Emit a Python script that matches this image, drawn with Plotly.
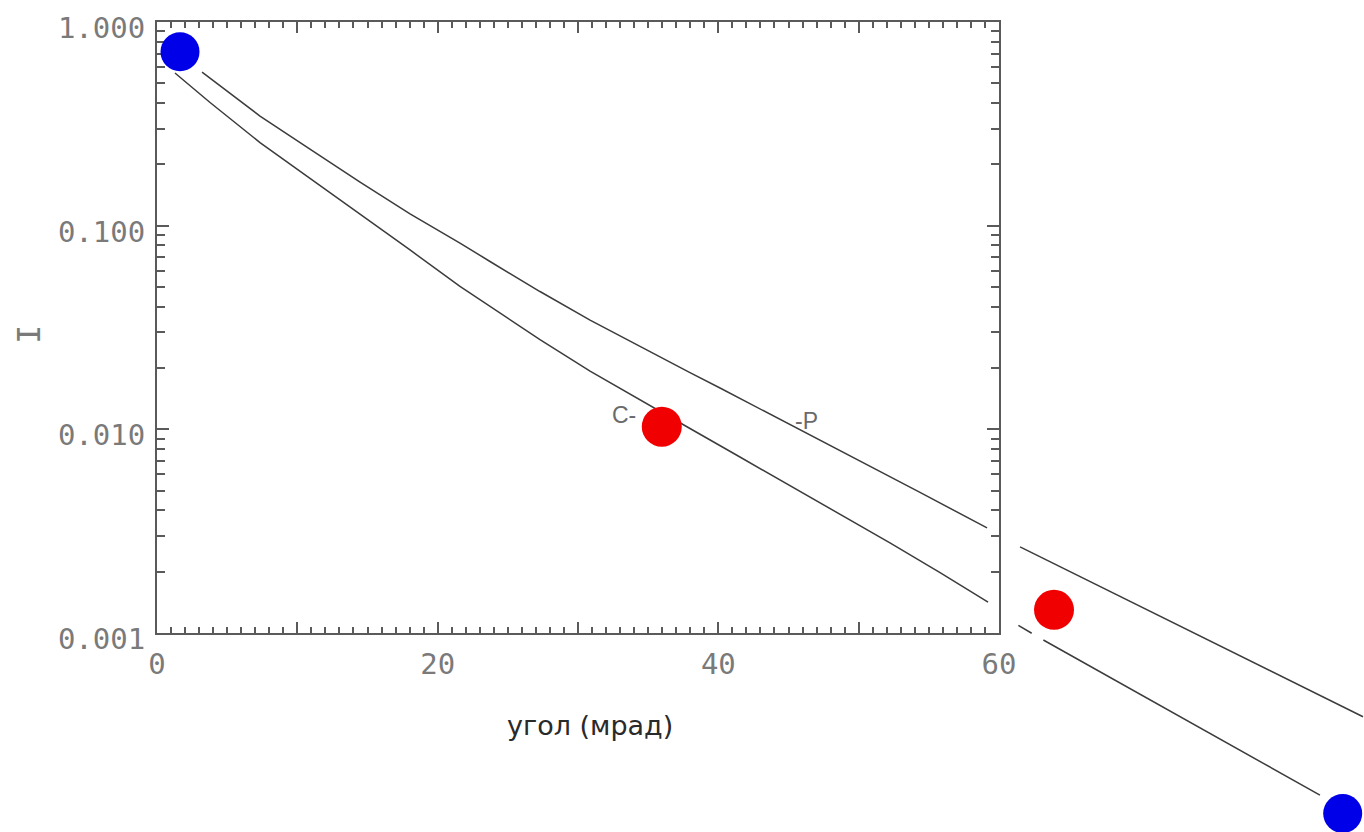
import plotly.graph_objects as go

# ---- data ----
p_x = [3.21, 7.34, 10.90, 14.47, 18.03, 21.59, 23.73, 27.29, 30.86, 34.42, 37.98, 40.12, 43.68, 46.32, 50.81, 54.37, 59.15]
p_y = [0.568, 0.3455, 0.2378, 0.1638, 0.1144, 0.0822, 0.0667, 0.0475, 0.0344, 0.0255, 0.0190, 0.01595, 0.01189, 0.00956, 0.00661, 0.00490, 0.00328]

c_x = [1.28, 3.78, 7.34, 10.90, 14.47, 18.03, 21.59, 23.73, 27.29, 30.86, 34.42, 37.98, 41.54, 45.11, 48.67, 52.23, 55.80, 59.22]
c_y = [0.5618, 0.4025, 0.2560, 0.1714, 0.1141, 0.0760, 0.0503, 0.0403, 0.0276, 0.01933, 0.01393, 0.01009, 0.00731, 0.00530, 0.00384, 0.00277, 0.00198, 0.001416]

# continuation drawn outside the frame
p_out_x = [61.50, 85.94]
p_out_y = [0.00265, 0.000388]
c_dash_x = [61.38, 62.33]
c_dash_y = [0.00109, 0.000997]
c_out_x = [63.16, 82.87]
c_out_y = [0.000924, 0.000160]

blue_x = [1.64, 84.49]
blue_y = [0.715, 0.000130]
red_x = [35.97, 63.92]
red_y = [0.0103, 0.00130]

x_tickvals = [0, 10, 20, 30, 40, 50, 60]
x_ticktext = ["0", "", "20", "", "40", "", "60"]
y_tickvals = [0.001, 0.01, 0.1, 1.0]
y_ticktext = ["0.001", "0.010", "0.100", "1.000"]

x_title = "угол (мрад)"
y_title = "I"

# ---- figure ----
LINE = "#3c3c3c"
AX = "#5a5a5a"
TICKFONT = dict(family="DejaVu Sans Mono", size=29, color="#7a7a7a")

fig = go.Figure()

fig.add_trace(go.Scatter(x=p_x, y=p_y, mode="lines", line=dict(color=LINE, width=1.5),
                         xaxis="x", yaxis="y", showlegend=False, hoverinfo="skip"))
fig.add_trace(go.Scatter(x=c_x, y=c_y, mode="lines", line=dict(color=LINE, width=1.5),
                         xaxis="x", yaxis="y", showlegend=False, hoverinfo="skip"))

for xs, ys in [(p_out_x, p_out_y), (c_dash_x, c_dash_y), (c_out_x, c_out_y)]:
    fig.add_trace(go.Scatter(x=xs, y=ys, mode="lines", line=dict(color=LINE, width=1.5),
                             xaxis="x2", yaxis="y2", showlegend=False, hoverinfo="skip"))

fig.add_trace(go.Scatter(x=red_x, y=red_y, mode="markers", marker=dict(color="#f00000", size=40, line=dict(width=0)),
                         xaxis="x2", yaxis="y2", cliponaxis=False, showlegend=False))
fig.add_trace(go.Scatter(x=blue_x, y=blue_y, mode="markers", marker=dict(color="#0000e8", size=39, line=dict(width=0)),
                         xaxis="x2", yaxis="y2", cliponaxis=False, showlegend=False))

# body margin is removed on load, so figure px == page px
W, H = 1364, 832
L, T = 157, 22          # frame: left 157, top 22, right 999, bottom 633
PW, PH = W - L, H - T
px_per_x = (999 - 157) / 60.0
px_per_dec = (633 - 22) / 3.0

def paper_x(page_px):
    return (page_px - L) / PW

def paper_y(page_py):
    return (H - page_py) / PH

y_minor = [k * 10 ** e for e in (-3, -2, -1) for k in range(2, 10)]
x_minor = [v for v in range(0, 61) if v % 10 != 0]

eps = 0.0003
fig.update_layout(
    width=W, height=H, autosize=False,
    margin=dict(l=L, r=0, t=T, b=0, pad=0, autoexpand=False),
    paper_bgcolor="white", plot_bgcolor="rgba(0,0,0,0)",
    xaxis=dict(domain=[0, paper_x(999)], range=[0, 60], anchor="y", automargin=False,
               showgrid=False, zeroline=False, showline=True, linecolor=AX, linewidth=2, mirror="ticks",
               ticks="inside", ticklen=11, tickwidth=1.5, tickcolor=AX,
               tickmode="array", tickvals=x_tickvals, ticktext=x_ticktext,
               tickfont=TICKFONT, ticklabelstandoff=4, ticklabeloverflow="allow",
               minor=dict(ticks="inside", ticklen=6, tickwidth=1.5, tickcolor=AX, tickmode="array", tickvals=x_minor, showgrid=False)),
    yaxis=dict(domain=[paper_y(633), 1], type="log", range=[-3 - eps, 0 + eps], anchor="x", automargin=False,
               showgrid=False, zeroline=False, showline=True, linecolor=AX, linewidth=2, mirror="ticks",
               ticks="inside", ticklen=12, tickwidth=1.5, tickcolor=AX,
               tickmode="array", tickvals=y_tickvals, ticktext=y_ticktext,
               tickfont=TICKFONT, ticklabelstandoff=4, ticklabelshift=6, ticklabeloverflow="allow",
               minor=dict(ticks="inside", ticklen=8, tickwidth=1.5, tickcolor=AX, tickmode="array", tickvals=y_minor, showgrid=False)),
    xaxis2=dict(domain=[0, 1], range=[0, PW / px_per_x], anchor="y2", visible=False, automargin=False),
    yaxis2=dict(domain=[0, 1], type="log", range=[-PH / px_per_dec, 0], anchor="x2", visible=False, automargin=False),
)

ann_font = dict(family="Liberation Sans", size=23, color="#6a6a6a")
fig.add_annotation(x=(638 - 157) / px_per_x, y=-(415 - 22) / px_per_dec, xref="x", yref="y",
                   text="C-", showarrow=False, xanchor="right", yanchor="middle", font=ann_font)
fig.add_annotation(x=(793 - 157) / px_per_x, y=-(421 - 22) / px_per_dec, xref="x", yref="y",
                   text="-P", showarrow=False, xanchor="left", yanchor="middle", font=ann_font)

fig.add_annotation(x=paper_x(590), y=paper_y(725), xref="paper", yref="paper",
                   text=x_title, showarrow=False, xanchor="center", yanchor="middle",
                   font=dict(family="DejaVu Sans", size=27, color="#2a2a2a"))
fig.add_annotation(x=paper_x(29), y=paper_y(335), xref="paper", yref="paper",
                   text=y_title, showarrow=False, xanchor="center", yanchor="middle", textangle=-90,
                   font=dict(family="DejaVu Sans Mono", size=32, color="#7a7a7a"))

fig.write_html("out.html", config={"displayModeBar": False, "responsive": False},
               post_script="document.body.style.margin='0';")
